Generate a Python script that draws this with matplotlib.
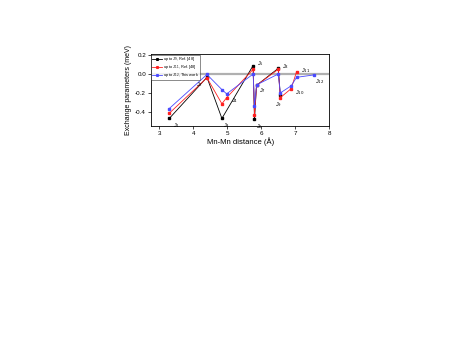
import matplotlib
matplotlib.use('Agg')
import matplotlib.pyplot as plt

plt.rcParams['font.family'] = ['Liberation Sans', 'DejaVu Sans']

# distances (A) and exchange values (meV)
x_ref9 = [3.29, 4.40, 4.84, 5.76, 5.80, 5.86, 6.50, 6.56]
j_ref9 = [-0.47, -0.035, -0.47, 0.09, -0.48, -0.12, 0.06, -0.22]

x_ref11 = [3.29, 4.40, 4.84, 4.98, 5.76, 5.80, 5.86, 6.50, 6.56, 6.88, 7.04]
j_ref11 = [-0.415, -0.04, -0.315, -0.25, 0.05, -0.435, -0.12, 0.05, -0.25, -0.155, 0.025]

x_work = [3.29, 4.40, 4.84, 4.98, 5.76, 5.80, 5.86, 6.50, 6.56, 6.88, 7.04, 7.54]
j_work = [-0.365, -0.005, -0.165, -0.21, 0.0, -0.34, -0.115, 0.0, -0.2, -0.125, -0.035, -0.01]

series_labels = ['up to J$_9$, Ref. [48]', 'up to J$_{11}$, Ref. [48]', 'up to J$_{12}$, This work']

# J labels: name, anchor point and offset in points
j_names = ['J$_1$', 'J$_2$', 'J$_3$', 'J$_4$', 'J$_5$', 'J$_6$',
           'J$_7$', 'J$_8$', 'J$_9$', 'J$_{10}$', 'J$_{11}$', 'J$_{12}$']
j_x = [3.29, 4.40, 4.84, 4.98, 5.76, 5.80, 5.86, 6.50, 6.56, 6.88, 7.04, 7.54]
j_y = [-0.47, -0.035, -0.47, -0.25, 0.09, -0.48, -0.12, 0.06, -0.25, -0.155, 0.025, -0.01]
j_off = [(3, -6), (-8, -6), (1, -6), (3, -3), (3, 0), (1, -6),
         (2, -5), (3, 0), (-4, -6), (3, -4), (3, 0), (1, -6)]

fig = plt.figure(figsize=(4.63, 3.54), dpi=100)
ax = fig.add_axes([0.326, 0.644, 0.385, 0.203])

ax.axhline(0, color='#b0b0b0', lw=1.6, zorder=0)
ax.plot(x_ref9, j_ref9, '-s', color='black', lw=0.6, ms=2, label=series_labels[0])
ax.plot(x_ref11, j_ref11, '-s', color='#ff2020', lw=0.6, ms=2, label=series_labels[1])
ax.plot(x_work, j_work, '-s', color='#4a4aff', lw=0.6, ms=2, label=series_labels[2])

for name, xx, yy, off in zip(j_names, j_x, j_y, j_off):
    ax.annotate(name, (xx, yy), xytext=off, textcoords='offset points', fontsize=4)

ax.set_xlim(2.75, 8)
ax.set_ylim(-0.55, 0.21)
ax.set_xticks([3, 4, 5, 6, 7, 8])
ax.set_yticks([-0.4, -0.2, 0.0, 0.2])
ax.set_yticklabels(['-0.4', '-0.2', '0.0', '0.2'])
ax.tick_params(labelsize=4.5, width=0.5, length=2, pad=1.5)
for s in ax.spines.values():
    s.set_linewidth(0.6)

ax.set_xlabel('Mn-Mn distance (Å)', fontsize=5.5, labelpad=1)
ax.set_ylabel('Exchange parameters (meV)', fontsize=5, labelpad=2)

leg = ax.legend(loc='upper left', fontsize=2.8, frameon=True, fancybox=False,
                edgecolor='black', handlelength=2.5, handletextpad=0.4,
                handleheight=0.5, borderpad=0.15, labelspacing=0.0,
                borderaxespad=0.1, markerscale=0.6)
leg.get_frame().set_linewidth(0.4)

plt.savefig('out.png', dpi=100)
